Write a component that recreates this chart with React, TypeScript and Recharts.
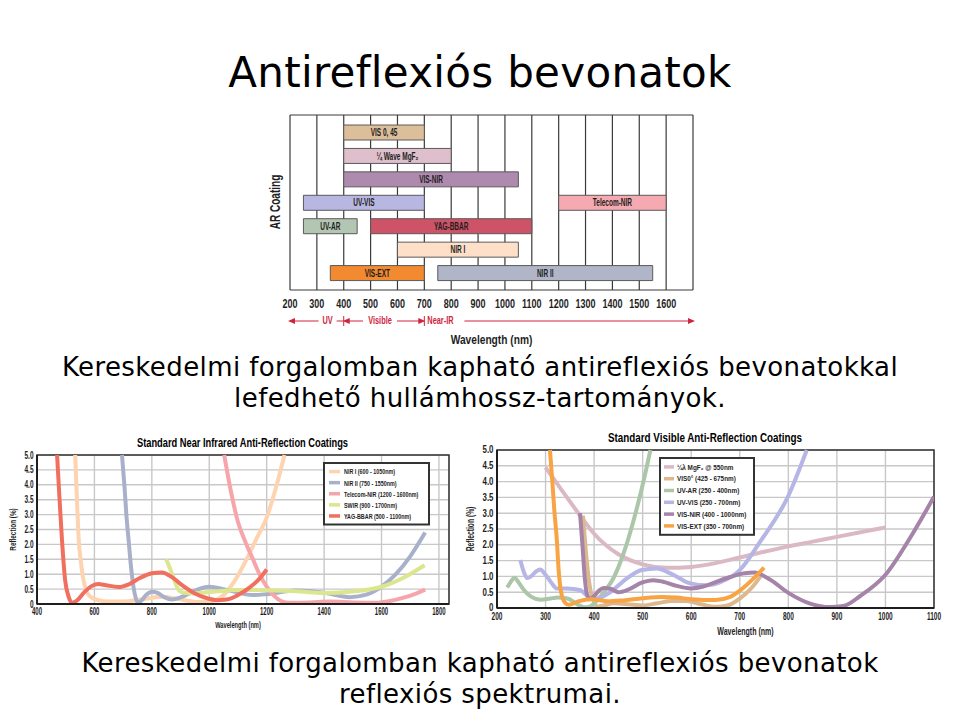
import React from 'react'
import {
  BarChart, Bar, Cell, LabelList, LineChart, Line, XAxis, YAxis,
  CartesianGrid, Legend, ReferenceArea, Label,
} from 'recharts'

const SANS = "'DejaVu Sans', Verdana, sans-serif"
const NARROW = "'Liberation Sans', Arial, sans-serif"

// ---- top chart: wavelength range of each AR coating ----
const rowFirstName = ['VIS 0, 45', '¼ Wave MgF₂', 'VIS-NIR', 'UV-VIS', 'UV-AR', 'NIR I', 'VIS-EXT']
const rowFirstFrom = [400, 400, 400, 250, 250, 600, 350]
const rowFirstTo = [700, 800, 1050, 700, 450, 1050, 700]
const rowFirstColor = ['#DDBE9B', '#DEBFCB', '#AE8BAE', '#B7B7E2', '#B3C6B2', '#FEE0C8', '#F28A30']
const rowSecondName = ['', '', '', 'Telecom-NIR', 'YAG-BBAR', '', 'NIR II']
const rowSecondFrom = [0, 0, 0, 1200, 500, 0, 750]
const rowSecondTo = [0, 0, 0, 1600, 1100, 0, 1550]
const rowSecondColor = ['none', 'none', 'none', '#F4AAB0', '#CE5367', 'none', '#B1B5C8']
const rangeTicks = [200, 300, 400, 500, 600, 700, 800, 900, 1000, 1100, 1200, 1300, 1400, 1500, 1600, 1700]
const regionNames = ['UV', 'Visible', 'Near-IR']
const regionEdges = [200, 400, 700, 1700]
const regionLabelAt = [340, 535, 760]

// ---- bottom left: near infrared coatings, [wavelength nm, reflection %] ----
const nirNames = ['NIR I (600 - 1050nm)', 'NIR II (750 - 1550nm)', 'Telecom-NIR (1200 - 1600nm)', 'SWIR (900 - 1700nm)', 'YAG-BBAR (500 - 1100nm)']
const nirColors = ['#FDD3B0', '#A9B0C9', '#F6A6AA', '#DCE68E', '#F06F5F']
const nirIPts = [[533, 5.0], [540, 3.3], [545, 2.2], [553, 1.4], [562, 0.8], [573, 0.42], [585, 0.25], [610, 0.14], [650, 0.08], [700, 0.08], [760, 0.15], [800, 0.21], [840, 0.24], [880, 0.19], [920, 0.12], [960, 0.07], [1000, 0.08], [1050, 0.3], [1090, 0.8], [1130, 1.5], [1165, 2.2], [1200, 2.9], [1235, 4.0], [1262, 5.0]]
const nirIIPts = [[696, 5.0], [705, 3.9], [712, 2.9], [719, 2.15], [728, 1.2], [736, 0.58], [744, 0.2], [751, 0.04], [762, 0.1], [780, 0.3], [800, 0.41], [820, 0.37], [845, 0.22], [870, 0.15], [900, 0.22], [950, 0.45], [1000, 0.58], [1050, 0.5], [1100, 0.38], [1150, 0.3], [1200, 0.33], [1300, 0.45], [1400, 0.38], [1490, 0.23], [1550, 0.32], [1600, 0.58], [1650, 1.0], [1700, 1.6], [1752, 2.4]]
const telecomPts = [[1052, 5.0], [1075, 3.8], [1100, 2.75], [1125, 2.1], [1150, 1.55], [1175, 1.0], [1200, 0.58], [1225, 0.28], [1250, 0.1], [1280, 0.04], [1350, 0.05], [1420, 0.08], [1500, 0.05], [1580, 0.04], [1630, 0.1], [1680, 0.22], [1720, 0.35], [1752, 0.48]]
const swirPts = [[850, 1.5], [865, 1.15], [880, 0.75], [895, 0.45], [910, 0.38], [950, 0.36], [1000, 0.4], [1100, 0.47], [1200, 0.46], [1300, 0.43], [1400, 0.37], [1500, 0.42], [1600, 0.58], [1680, 0.9], [1750, 1.3]]
const yagPts = [[470, 5.0], [478, 3.6], [487, 2.15], [498, 0.8], [510, 0.25], [522, 0.04], [540, 0.12], [565, 0.4], [590, 0.6], [614, 0.67], [640, 0.63], [684, 0.57], [720, 0.66], [760, 0.88], [800, 1.03], [835, 1.06], [870, 0.9], [904, 0.64], [950, 0.35], [990, 0.2], [1026, 0.13], [1060, 0.15], [1100, 0.3], [1140, 0.55], [1170, 0.8], [1200, 1.16]]
const nirTicks = [400, 600, 800, 1000, 1200, 1400, 1600, 1800]

// ---- bottom right: visible coatings ----
const visNames = ['¼λ MgF₂ @ 550nm', 'VIS0° (425 - 675nm)', 'UV-AR (250 - 400nm)', 'UV-VIS (250 - 700nm)', 'VIS-NIR (400 - 1000nm)', 'VIS-EXT (350 - 700nm)']
const visColors = ['#DBB9C4', '#DDB88F', '#ABC6A8', '#B5B5E6', '#A683A8', '#F9A444']
const mgf2Pts = [[300, 4.45], [330, 3.8], [370, 2.95], [400, 2.35], [450, 1.7], [500, 1.38], [550, 1.27], [600, 1.3], [650, 1.42], [700, 1.6], [750, 1.78], [800, 1.95], [850, 2.1], [900, 2.25], [950, 2.4], [1000, 2.55]]
const vis0Pts = [[377, 2.92], [383, 1.8], [390, 0.8], [398, 0.25], [408, 0.05], [420, 0.08], [440, 0.15], [470, 0.12], [500, 0.08], [530, 0.15], [560, 0.22], [590, 0.22], [620, 0.12], [650, 0.04], [675, 0.08], [700, 0.3], [725, 0.65], [745, 1.05]]
const uvArPts = [[221, 0.65], [228, 0.82], [236, 0.96], [245, 0.8], [255, 0.58], [270, 0.36], [290, 0.26], [310, 0.3], [325, 0.33], [345, 0.3], [365, 0.12], [380, 0.02], [392, 0.05], [400, 0.15], [420, 0.5], [440, 0.95], [460, 1.7], [480, 2.7], [500, 3.9], [516, 5.0]]
const uvVisPts = [[248, 1.52], [255, 1.15], [262, 0.95], [270, 1.0], [280, 1.15], [289, 1.22], [300, 1.05], [312, 0.8], [323, 0.62], [344, 0.62], [371, 0.57], [392, 0.32], [405, 0.3], [433, 0.5], [467, 0.93], [498, 1.2], [529, 1.25], [563, 1.05], [598, 0.78], [632, 0.72], [660, 0.82], [700, 1.2], [742, 2.1], [800, 3.55], [838, 5.0]]
const visNirPts = [[371, 3.0], [376, 2.0], [380, 1.1], [385, 0.45], [391, 0.28], [400, 0.38], [410, 0.55], [420, 0.63], [435, 0.6], [450, 0.5], [470, 0.58], [498, 0.8], [522, 0.88], [545, 0.82], [570, 0.7], [600, 0.62], [625, 0.68], [650, 0.82], [680, 0.98], [710, 1.1], [730, 1.12], [762, 0.9], [800, 0.48], [845, 0.14], [886, 0.03], [913, 0.06], [948, 0.38], [1000, 1.05], [1050, 2.2], [1100, 3.52]]
const visExtPts = [[309, 5.0], [314, 4.0], [318, 3.1], [323, 2.2], [327, 1.2], [332, 0.5], [340, 0.17], [348, 0.1], [367, 0.21], [395, 0.28], [429, 0.21], [460, 0.24], [500, 0.31], [540, 0.35], [570, 0.33], [600, 0.28], [650, 0.25], [680, 0.35], [700, 0.55], [728, 0.93], [750, 1.28]]
const visTicks = [200, 300, 400, 500, 600, 700, 800, 900, 1000, 1100]
const reflTicks = [0, 0.5, 1, 1.5, 2, 2.5, 3, 3.5, 4, 4.5, 5]

const toXY = (pts: number[][]) => pts.map(([x, y]) => ({ x, y }))
const nirSeries = [nirIPts, nirIIPts, telecomPts, swirPts, yagPts].map(toXY)
const visSeries = [mgf2Pts, vis0Pts, uvArPts, uvVisPts, visNirPts, visExtPts].map(toXY)

const coverage = rowFirstName.map((n1, i) => ({
  row: i,
  lead: rowFirstFrom[i],
  b1: rowFirstTo[i] - rowFirstFrom[i],
  gap: rowSecondTo[i] ? rowSecondFrom[i] - rowFirstTo[i] : 0,
  b2: rowSecondTo[i] - rowSecondFrom[i],
  n1,
  n2: rowSecondName[i],
}))

function NarrowText({ x, y, size, sx, anchor = 'middle', fill = '#1e1e1e', weight = 700, rotate = 0, children }: any) {
  return (
    <text
      transform={`translate(${x} ${y}) rotate(${rotate}) scale(${sx} 1)`}
      textAnchor={anchor}
      dominantBaseline="central"
      fontFamily={NARROW}
      fontSize={size}
      fontWeight={weight}
      fill={fill}
    >
      {children}
    </text>
  )
}

const narrowTick = (size: number, sx: number, side: 'x' | 'y', gap: number, fmt?: (v: number) => string) =>
  (props: any) => {
    const { x, y, payload } = props
    const text = fmt ? fmt(payload.value) : String(payload.value)
    if (side === 'x') return <NarrowText x={x} y={y + gap} size={size} sx={sx}>{text}</NarrowText>
    return <NarrowText x={x - gap} y={y} size={size} sx={sx} anchor="end">{text}</NarrowText>
  }

const reflFmt = (v: number) => (v === 0 ? '0' : v.toFixed(1))

const barLabel = (props: any) => {
  const { x, y, width, height, value } = props
  if (!value) return null
  return <NarrowText x={x + width / 2} y={y + height / 2} size={10.5} sx={0.62}>{value}</NarrowText>
}

// wavelength axis title plus the UV / Visible / Near-IR bands under the top chart
const rangeAxisLabel = (props: any) => {
  const { x, y, width } = props.viewBox
  const px = (nm: number) => x + ((nm - rangeTicks[0]) / (rangeTicks[rangeTicks.length - 1] - rangeTicks[0])) * width
  const ay = y + 31
  const red = '#CF2440'
  const half = [6, 14, 16]
  const left = (p: number) => <polygon points={`${p - 2},${ay} ${p + 5},${ay - 3} ${p + 5},${ay + 3}`} fill={red} />
  const right = (p: number) => <polygon points={`${p + 2},${ay} ${p - 5},${ay - 3} ${p - 5},${ay + 3}`} fill={red} />
  const bar = (p: number) => <line x1={p} x2={p} y1={ay - 5} y2={ay + 5} stroke={red} strokeWidth={1} />
  const seg = (a: number, b: number) => <line x1={a} x2={b} y1={ay} y2={ay} stroke={red} strokeWidth={1} />
  const [e0, e1, e2, e3] = regionEdges.map(px)
  const c = regionLabelAt.map(px)
  return (
    <g>
      {left(e0)}
      {seg(e0, c[0] - half[0] - 3)}
      {seg(c[0] + half[0] + 3, e1)}
      {bar(e1)}
      {left(e1 + 1)}
      {seg(e1 + 1, c[1] - half[1] - 3)}
      {seg(c[1] + half[1] + 3, e2 - 1)}
      {right(e2 - 1)}
      {bar(e2)}
      {seg(c[2] + half[2] + 8, e3)}
      {right(e3)}
      {regionNames.map((n, i) => (
        <NarrowText key={n} x={c[i]} y={ay} size={10} sx={0.74} fill={red}>{n}</NarrowText>
      ))}
      <NarrowText x={x + width / 2} y={y + 50} size={12} sx={0.85}>Wavelength (nm)</NarrowText>
    </g>
  )
}

const makeLegend = (order: string[], w: number, rowH: number, size: number, sx: number, sw: number[], tx: number) => (props: any) => {
  const items = [...(props.payload || [])].sort((a: any, b: any) => order.indexOf(a.value) - order.indexOf(b.value))
  const h = items.length * rowH + 8
  return (
    <svg width={w} height={h} style={{ display: 'block' }}>
      <rect x={1} y={1} width={w - 2} height={h - 2} fill="#fff" stroke="#333" strokeWidth={2} />
      {items.map((it: any, i: number) => {
        const cy = 4 + rowH * (i + 0.5)
        return (
          <g key={i}>
            <line x1={sw[0]} x2={sw[1]} y1={cy} y2={cy} stroke={it.color} strokeWidth={3.5} />
            <NarrowText x={tx} y={cy} size={size} sx={sx} anchor="start">{it.value}</NarrowText>
          </g>
        )
      })}
    </svg>
  )
}

const yTitle = (size: number, sx: number, dx: number) => (props: any) => {
  const { x, y, height } = props.viewBox
  return <NarrowText x={x + dx} y={y + height / 2} size={size} sx={sx} rotate={-90}>Reflection (%)</NarrowText>
}

const xTitle = (size: number, sx: number, dx: number, dy: number) => (props: any) => {
  const { x, y, width } = props.viewBox
  return <NarrowText x={x + width / 2 + dx} y={y + dy} size={size} sx={sx}>Wavelength (nm)</NarrowText>
}

function CoverageChart() {
  return (
    <BarChart
      width={430}
      height={260}
      data={coverage}
      layout="vertical"
      barSize={15}
      margin={{ top: 10, right: 17, bottom: 20, left: 10 }}
    >
      <CartesianGrid
        stroke="#3a3a3a"
        strokeWidth={1.2}
        horizontalCoordinatesGenerator={(p: any) => (p && p.offset ? [p.offset.top, p.offset.top + p.offset.height] : [])}
      />
      <XAxis
        type="number"
        domain={[200, 1700]}
        ticks={rangeTicks}
        allowDataOverflow
        height={55}
        axisLine={false}
        tickLine={false}
        tickSize={0}
        tickMargin={0}
        interval={0}
        tick={narrowTick(12.5, 0.72, 'x', 13, (v) => (v === 1700 ? '' : String(v)))}
      >
        <Label content={rangeAxisLabel} />
      </XAxis>
      <YAxis type="category" dataKey="row" hide padding={{ top: 6, bottom: 5 }} />
      <Bar dataKey="lead" stackId="s" fill="transparent" isAnimationActive={false} />
      <Bar dataKey="b1" stackId="s" stroke="#5a5a5a" strokeWidth={1} isAnimationActive={false}>
        {coverage.map((_, i) => <Cell key={i} fill={rowFirstColor[i]} />)}
        <LabelList dataKey="n1" content={barLabel} />
      </Bar>
      <Bar dataKey="gap" stackId="s" fill="transparent" isAnimationActive={false} />
      <Bar dataKey="b2" stackId="s" stroke="#5a5a5a" strokeWidth={1} isAnimationActive={false}>
        {coverage.map((_, i) => <Cell key={i} fill={rowSecondColor[i]} />)}
        <LabelList dataKey="n2" content={barLabel} />
      </Bar>
    </BarChart>
  )
}

function NirChart() {
  return (
    <LineChart width={460} height={200} margin={{ top: 25, right: 11, bottom: 0, left: 11 }}>
      <CartesianGrid stroke="#c8c8c8" strokeWidth={1.4} />
      <XAxis
        type="number"
        dataKey="x"
        domain={[400, 1835]}
        ticks={nirTicks}
        allowDataOverflow
        height={26}
        interval={0}
        tickLine={false}
        tickSize={0}
        tickMargin={0}
        axisLine={{ stroke: '#1e1e1e', strokeWidth: 2 }}
        tick={narrowTick(10, 0.6, 'x', 8)}
      >
        <Label content={xTitle(9.5, 0.6, -5, 21)} />
      </XAxis>
      <YAxis
        type="number"
        domain={[0, 5]}
        ticks={reflTicks}
        width={26}
        interval={0}
        tickLine={false}
        tickSize={0}
        tickMargin={0}
        axisLine={{ stroke: '#1e1e1e', strokeWidth: 2 }}
        tick={narrowTick(10, 0.65, 'y', 3.5, reflFmt)}
      >
        <Label content={yTitle(9.5, 0.67, 2)} />
      </YAxis>
      <ReferenceArea x1={400} x2={1835} y1={0} y2={5} fill="none" stroke="#333" strokeWidth={1.5} ifOverflow="visible" />
      {nirSeries.map((d, i) => (
        <Line
          key={nirNames[i]}
          data={d}
          dataKey="y"
          name={nirNames[i]}
          type="monotone"
          stroke={nirColors[i]}
          strokeWidth={4}
          dot={false}
          activeDot={false}
          isAnimationActive={false}
        />
      ))}
      <Legend
        layout="vertical"
        align="center"
        verticalAlign="middle"
        wrapperStyle={{ left: 323, top: 32, width: 107 }}
        content={makeLegend(nirNames, 107, 11.1, 7.5, 0.72, [6, 17], 21)}
      />
    </LineChart>
  )
}

function VisChart() {
  return (
    <LineChart width={500} height={215} margin={{ top: 25, right: 26, bottom: 5, left: 9 }}>
      <CartesianGrid stroke="#c8c8c8" strokeWidth={1.4} />
      <XAxis
        type="number"
        dataKey="x"
        domain={[200, 1100]}
        ticks={visTicks}
        allowDataOverflow
        height={27}
        interval={0}
        tickLine={false}
        tickSize={0}
        tickMargin={0}
        axisLine={{ stroke: '#1e1e1e', strokeWidth: 2 }}
        tick={narrowTick(10.5, 0.62, 'x', 8)}
      >
        <Label content={xTitle(10.5, 0.67, 30, 23)} />
      </XAxis>
      <YAxis
        type="number"
        domain={[0, 5]}
        ticks={reflTicks}
        width={28}
        interval={0}
        tickLine={false}
        tickSize={0}
        tickMargin={0}
        axisLine={{ stroke: '#1e1e1e', strokeWidth: 2 }}
        tick={narrowTick(10.5, 0.75, 'y', 3.5, reflFmt)}
      >
        <Label content={yTitle(10, 0.67, 1)} />
      </YAxis>
      <ReferenceArea x1={200} x2={1100} y1={0} y2={5} fill="none" stroke="#333" strokeWidth={1.5} ifOverflow="visible" />
      {visSeries.map((d, i) => (
        <Line
          key={visNames[i]}
          data={d}
          dataKey="y"
          name={visNames[i]}
          type="monotone"
          stroke={visColors[i]}
          strokeWidth={4}
          dot={false}
          activeDot={false}
          isAnimationActive={false}
        />
      ))}
      <Legend
        layout="vertical"
        align="center"
        verticalAlign="middle"
        wrapperStyle={{ left: 199, top: 32, width: 96 }}
        content={makeLegend(visNames, 96, 11.8, 7.5, 0.85, [5, 15], 18)}
      />
    </LineChart>
  )
}

const caption = (top: number): React.CSSProperties => ({
  position: 'absolute',
  left: 0,
  top,
  width: 960,
  textAlign: 'center',
  fontFamily: SANS,
  fontSize: 26,
  letterSpacing: '0.4px',
  lineHeight: '31px',
  color: '#000',
})

export default function App() {
  return (
    <div style={{ position: 'absolute', left: 0, top: 0, width: 960, height: 720, background: '#fff', overflow: 'hidden' }}>
      <div style={{ position: 'absolute', left: 0, top: 47, width: 960, textAlign: 'center', fontFamily: SANS, fontSize: 42, letterSpacing: '0.3px', lineHeight: '52px' }}>
        Antireflexiós bevonatok
      </div>

      <div style={{ position: 'absolute', left: 280, top: 105 }}>
        <CoverageChart />
      </div>
      <svg style={{ position: 'absolute', left: 255, top: 150 }} width={40} height={110}>
        <NarrowText x={20} y={52} size={15} sx={0.67} weight={700} rotate={-90}>AR Coating</NarrowText>
      </svg>

      <div style={caption(351.5)}>
        Kereskedelmi forgalomban kapható antireflexiós bevonatokkal<br />
        lefedhető hullámhossz-tartományok.
      </div>

      <svg style={{ position: 'absolute', left: 0, top: 432 }} width={460} height={22}>
        <text x={242.5} y={11} textAnchor="middle" dominantBaseline="central" fontFamily={NARROW} fontWeight={700} fontSize={12} textLength={211} lengthAdjust="spacingAndGlyphs">
          Standard Near Infrared Anti-Reflection Coatings
        </text>
      </svg>
      <div style={{ position: 'absolute', left: 0, top: 430 }}>
        <NirChart />
      </div>

      <svg style={{ position: 'absolute', left: 460, top: 427 }} width={500} height={22}>
        <text x={245} y={10.5} textAnchor="middle" dominantBaseline="central" fontFamily={NARROW} fontWeight={700} fontSize={12} textLength={194} lengthAdjust="spacingAndGlyphs">
          Standard Visible Anti-Reflection Coatings
        </text>
      </svg>
      <div style={{ position: 'absolute', left: 460, top: 425 }}>
        <VisChart />
      </div>

      <div style={caption(647.5)}>
        Kereskedelmi forgalomban kapható antireflexiós bevonatok<br />
        reflexiós spektrumai.
      </div>
    </div>
  )
}
